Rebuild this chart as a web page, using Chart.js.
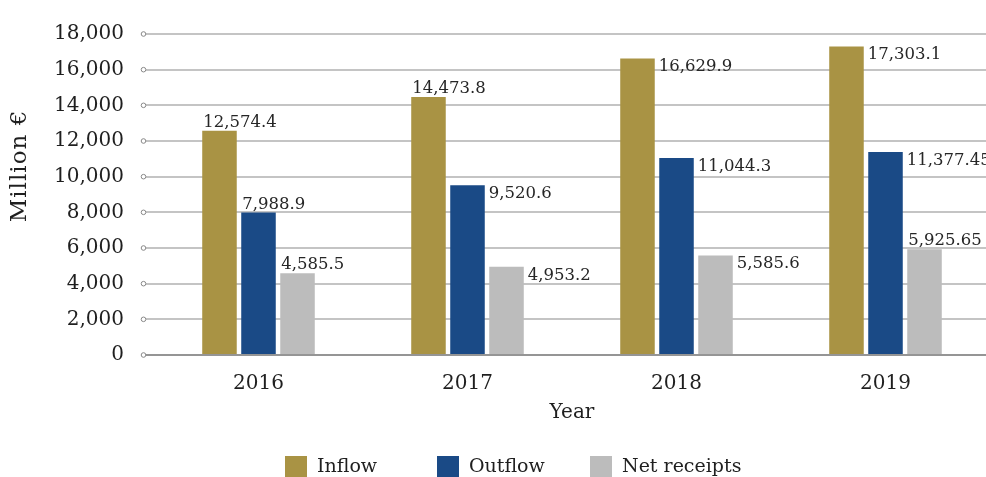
<!DOCTYPE html>
<html>
<head>
<meta charset="utf-8">
<title>Inflow, outflow and net receipts</title>
<script src="https://cdn.jsdelivr.net/npm/chart.js@4.4.1/dist/chart.umd.min.js"></script>
<style>
  html, body { margin: 0; padding: 0; background: #fff; overflow: hidden; }
</style>
</head>
<body>
<canvas id="flowChart" width="990" height="477"></canvas>
<script>
var years = ['2016', '2017', '2018', '2019'];
var inflow = [12574.4, 14473.8, 16629.9, 17303.1];
var outflow = [7988.9, 9520.6, 11044.3, 11377.45];
var netReceipts = [4585.5, 4953.2, 5585.6, 5925.65];
var seriesNames = ['Inflow', 'Outflow', 'Net receipts'];
var yMax = 18000;
var yStep = 2000;

var FONT = "'DejaVu Serif', 'Liberation Serif', serif";
var colors = ['#a99344', '#1a4a86', '#bcbcbc'];

// where each value label sits: above the bar or beside it
var labelSide = [
  ['top', 'top', 'right', 'right'],
  ['top', 'right', 'right', 'right'],
  ['top', 'right', 'right', 'top']
];

var numberFormat = new Intl.NumberFormat('en-US', { maximumFractionDigits: 2 });

var valueLabels = {
  id: 'valueLabels',
  afterDatasetsDraw: function (chart) {
    var ctx = chart.ctx;
    ctx.save();
    ctx.font = '16.5px ' + FONT;
    ctx.fillStyle = '#262626';
    ctx.textBaseline = 'alphabetic';
    ctx.textAlign = 'left';
    chart.data.datasets.forEach(function (ds, i) {
      chart.getDatasetMeta(i).data.forEach(function (bar, j) {
        var text = numberFormat.format(ds.data[j]);
        var half = bar.width / 2;
        if (labelSide[i][j] === 'top') {
          ctx.fillText(text, bar.x - half + 1, bar.y - 4);
        } else {
          ctx.fillText(text, bar.x + half + 4, bar.y + 13);
        }
      });
    });
    ctx.restore();
  }
};

// small hollow circles at the left end of each grid line, y title and legend
var decorations = {
  id: 'decorations',
  afterDraw: function (chart) {
    var ctx = chart.ctx;
    var area = chart.chartArea;
    var y = chart.scales.y;
    ctx.save();
    ctx.lineWidth = 1;
    ctx.strokeStyle = '#888';
    ctx.fillStyle = '#fff';
    y.ticks.forEach(function (t) {
      var py = y.getPixelForValue(t.value);
      ctx.beginPath();
      ctx.arc(area.left - 10.5, py, 2.3, 0, Math.PI * 2);
      ctx.fill();
      ctx.stroke();
    });

    // y axis title
    ctx.save();
    ctx.translate(20, 166);
    ctx.rotate(-Math.PI / 2);
    ctx.font = '23px ' + FONT;
    ctx.letterSpacing = '1px';
    ctx.fillStyle = '#1f1f1f';
    ctx.textAlign = 'center';
    ctx.textBaseline = 'middle';
    ctx.fillText('Million €', 0, 0);
    ctx.restore();

    // legend
    var legendX = [285, 437, 590];
    ctx.font = '19px ' + FONT;
    ctx.textAlign = 'left';
    ctx.textBaseline = 'alphabetic';
    chart.data.datasets.forEach(function (ds, i) {
      ctx.fillStyle = ds.backgroundColor;
      ctx.fillRect(legendX[i], 456, 22, 22);
      ctx.fillStyle = '#1f1f1f';
      ctx.fillText(ds.label, legendX[i] + 32, 472);
    });
    ctx.restore();
  }
};

var ctx = document.getElementById('flowChart').getContext('2d');

var flowChart = new Chart(ctx, {
  type: 'bar',
  data: {
    labels: years,
    datasets: [
      { label: seriesNames[0], data: inflow, backgroundColor: colors[0] },
      { label: seriesNames[1], data: outflow, backgroundColor: colors[1] },
      { label: seriesNames[2], data: netReceipts, backgroundColor: colors[2] }
    ]
  },
  options: {
    responsive: false,
    maintainAspectRatio: false,
    devicePixelRatio: 1,
    animation: false,
    categoryPercentage: 0.56,
    barPercentage: 0.885,
    layout: { padding: { top: 28, right: 0, bottom: 52, left: 0 } },
    plugins: {
      legend: { display: false },
      tooltip: { enabled: false }
    },
    scales: {
      x: {
        grid: { display: false },
        border: { display: false },
        ticks: {
          color: '#1f1f1f',
          font: { family: FONT, size: 20 },
          padding: 9
        },
        title: {
          display: true,
          text: 'Year',
          color: '#1f1f1f',
          font: { family: FONT, size: 20 },
          padding: { top: 0, bottom: 0 }
        },
        afterFit: function (scale) { scale.height = 70; }
      },
      y: {
        min: 0,
        max: yMax,
        border: { display: false },
        grid: {
          color: function (c) { return c.tick && c.tick.value === 0 ? '#959595' : '#c4c4c4'; },
          lineWidth: 2,
          tickLength: 8,
          drawTicks: true
        },
        ticks: {
          stepSize: yStep,
          color: '#1f1f1f',
          font: { family: FONT, size: 20 },
          padding: 22,
          callback: function (v) { return numberFormat.format(v); }
        },
        afterFit: function (scale) { scale.width = 154; }
      }
    }
  },
  plugins: [valueLabels, decorations]
});
</script>
</body>
</html>
